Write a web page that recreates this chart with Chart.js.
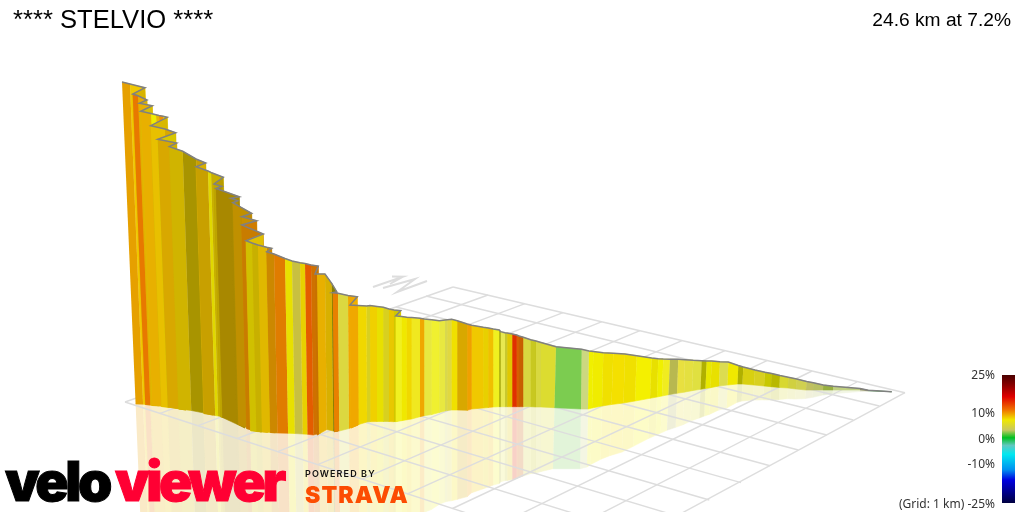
<!DOCTYPE html>
<html>
<head>
<meta charset="utf-8">
<title>Stelvio</title>
<script src="https://cdn.jsdelivr.net/npm/chart.js@4"></script>
<style>
  html, body { margin: 0; background: #fff; }
  #wrap { position: relative; width: 1024px; height: 512px; overflow: hidden; }
  #wrap span { position: absolute; white-space: nowrap; line-height: 1; color: #000; }
  .head { font-family: "Liberation Sans", Arial, sans-serif; }
  .tick { font: 12px "Noto Sans", sans-serif; color: #333 !important; right: 29px; }
  .logo { font: 900 55px Inter, sans-serif; letter-spacing: -3.5px; -webkit-text-stroke: 1px currentColor; }
</style>
</head>
<body>
<div id="wrap">
  <canvas id="chart" width="1024" height="512"></canvas>
  <span class="head" style="left:13px;top:7px;font-size:25.6px">**** STELVIO ****</span>
  <span class="head" style="right:13px;top:10px;font-size:19.2px">24.6 km at 7.2%</span>
  <span class="tick" style="top:369px">25%</span>
  <span class="tick" style="top:407px">10%</span>
  <span class="tick" style="top:433px">0%</span>
  <span class="tick" style="top:458px">-10%</span>
  <span class="tick" style="top:498px">(Grid: 1 km) -25%</span>
  <span class="logo" style="left:5px;top:454px;color:#000">velo</span>
  <span class="logo" style="left:115px;top:454px;color:#ff0033">viewer</span>
  <span style="left:305px;top:468px;font:600 9px Inter,sans-serif;letter-spacing:1.1px;color:#111">POWERED BY</span>
  <span style="left:305px;top:481px;font:900 23px Inter,sans-serif;letter-spacing:1.1px;color:#fc4c02">STRAVA</span>
</div>
<script>
// profile edge, in the order the road runs
const topX = [
  122,130,145,132.7,138,147,139.3,152.3,140.7,151,
  156,159,163,167.3,150.7,165,175.7,157.7,176.7,169.3,
  182.7,196,205.7,196,208,211,223.3,214,221.7,216,
  239.3,230.7,237.7,232.7,251.7,241.7,256.7,241.7,263.3,246,
  252,258,266.7,271.7,266.7,274,285,292,300,305,
  311,318.3,315,317,325,331.7,336.7,332.7,338,348,
  357.3,350,358,366.7,370,377,383.3,389,394,400.7,
  395.7,401.7,406.7,411.7,420,424.3,431.7,439.3,445,447.3,
  451.7,457.3,467.3,471.7,483.3,488.3,493.3,499.3,500.7,505,
  507.3,512.3,516.7,519,523.3,530.7,536,541,556,581.7,
  589,593.3,603.3,613.3,625,636.7,651.7,658.3,663.3,670,
  678.3,685,693.3,701.7,706.7,711.7,720,728.3,738.3,743.3,
  755,765,771.7,780,788.3,796.7,806.7,813.3,823.3,833.3,
  860,868.3,891.7
];
const topY = [
  82,84,87.7,94,95.7,100,103.3,105.7,111.3,113.6,
  114.8,115.5,116.2,117.3,125.7,129,132.7,139.3,143,146.7,
  151.3,159,163,166.7,171,172.5,177.3,184,186.3,188.5,
  196.7,198.3,200.7,202.7,213.3,216.7,220.7,225,234,240.7,
  243,245,247.3,248.3,251.7,254,258.5,261,262.7,263.5,
  265,266,274,274,274,283.3,291.7,292.7,293.3,295.5,
  296.7,305,305.5,306,305.5,306.5,307.3,309,310,310.7,
  316,316.6,317.2,317.6,318.3,319,319.7,320.7,320,319.7,
  319.3,320.7,324,325.3,327.3,328,329,330,331.7,332.8,
  333,334,335,336,337.3,339.8,341,342.5,346.7,349.3,
  351,351.5,352.7,353.3,354,355.7,358,358.7,359,359.2,
  359.3,359.7,360.3,360.7,361,361,361.7,362,365.5,367,
  370,372.2,373.5,375.5,377.3,379,381.5,382.7,385,386.2,
  388.5,390.3,391.7
];
// where the wall meets the grid
const baseX = [
  135.6,143.1,157.3,145.3,150.3,158.8,151.3,163.6,152.3,161.6,
  166.9,169.7,173.6,177.7,161.5,175,185.2,167.7,185.9,178.6,
  191.3,204,213.2,203.8,215.2,218.1,229.9,220.7,228.1,222.5,
  244.9,236.6,243.3,238.3,256.7,246.9,261.4,246.7,267.5,250.5,
  256.3,262,270.5,275.4,270.5,277.5,288.1,294.9,302.7,307.5,
  313.4,320.4,317.1,319,326.8,333.3,338,334.2,339.3,349,
  358.2,351,358.7,367,370.4,377,383.4,389,394,400,
  395.7,401.7,406.7,411.7,420,424.3,431.7,439.3,445,447.3,
  451.7,457.3,467.3,471.7,483.3,488.3,493.3,499.3,500.7,505,
  507.3,512.3,516.7,519,523.3,530.7,536,541,554.5,581,
  588,592,602,611.5,623.5,635,650,657,662,668.5,
  677,684,692,700.5,705.5,710.5,719,727.5,737.5,742.5,
  754,764,771,779.5,788,796,806,813,823,833,
  860,868.3,891.7
];
const baseY = [
  404,404.2,405.5,404.5,405,405.7,405,406,405.5,406,
  407,407,407.5,408,406.5,408,409.5,407,410,409,
  410.5,413,415,413.5,415.5,416,418.5,417,418,417.5,
  428,423.3,426,424.5,431,428.5,432,428.5,432.3,430.7,
  431.5,432,432.5,432.7,432.5,433,433.3,433.5,434,434.3,
  435,433,435,434,429.5,431,431,431.7,431,428.5,
  425,428,424.5,422,421.7,421.5,421.5,421.5,421.7,420,
  421.7,420.7,419.8,419,416.7,415.7,414.5,412.5,411,410.5,
  410,410,410.3,409,408,407.5,407,406.7,406.7,406.7,
  406.7,406.7,406.7,406.7,406.7,406.7,407,407,407.7,409,
  409,408,406,404.5,403,401,398.3,397,396,394.7,
  393.3,392.2,390.7,389.3,388.5,387.7,386,385,384,384,
  385,386,386.7,387.5,388,389,390,390,390,390,
  390,390.8,391.7
];
// gradient colour of each strip, one fewer than the edge points
const stripColors = [
  '#e6a000','#f0c800','#d8b400','#e87800','#e8ac00','#d8b400','#e8b000','#d8c000','#e8b000','#f0ec00',
  '#e8b800','#f09000','#e0d000','#d8b800','#e8c000','#d8a800','#d8c800','#d8a800','#d0b000','#d0b400',
  '#a89400','#c8a000','#d8b000','#c8a000','#e0d800','#c8b000','#b89c00','#c0a800','#b09000','#a88800',
  '#a88800','#a88800','#b09000','#c09000','#c08a00','#c89000','#d07c00','#c87c00','#e0c000','#d0c000',
  '#c8b000','#e0b800','#cc8800','#cc8800','#cc8800','#e07c00','#e8e000','#c8c040','#e8d000','#e45c00',
  '#d07000','#c87800','#c87000','#e8b000','#d8b000','#888000','#808000','#e88000','#dcd840','#f0a800',
  '#f0b000','#f0a800','#f0d800','#d8d020','#f0d000','#e8e000','#d8d020','#e8c800','#d0c800','#d8c800',
  '#f0f020','#f0e800','#f0d800','#f0e820','#f0a800','#e8e840','#f0f030','#e8e840','#d8d850','#e0d840',
  '#f0e000','#d8a800','#f0a000','#f0c800','#e8d000','#f0c000','#f0f020','#a0a000','#e8e850','#c8c830',
  '#e0c800','#e03000','#d86000','#c86000','#d8d840','#c8c820','#d8d840','#dcdc30','#7ccc50','#ccd880',
  '#f0f000','#f0ec00','#f0e000','#f4e000','#f0e000','#f4f000','#e8e000','#f0f000','#f0ec20','#b8b850',
  '#e8e040','#e4e040','#e0e040','#b0b000','#e8e800','#e8e000','#dcdc50','#f0e800','#b0b000','#d8d010',
  '#d8d020','#c8c800','#b8b800','#d8d830','#d0d040','#d0d050','#c0c060','#b8c060','#98b040','#c0d080',
  '#909060','#60a060'
];

// 1 km grid, one line per km each way, ends on the grid's outer edges
const gridAFromX = [453,426,396,367,336,305,272,237,205,168,125];
const gridAFromY = [287,296,307,317.5,328,339,350.7,362.7,374,387,402];
const gridAToX = [905,879.3,853.3,826.7,798.3,770,741,709.3,677,642,601];
const gridAToY = [392.7,406,420,435,450,465.7,482.7,500,516,534.7,556.7];
const gridBFromX = [125,160,198,237.4,277.8,317.7,362.1,407.5,452.5,500.3,549.5,601];
const gridBFromY = [402,413.3,425.7,438.5,451.7,464.6,479.1,493.8,508.5,524,540,556.7];
const gridBToX = [453,488,525,563,602,640,682,725,767,812,857,905];
const gridBToY = [287,295,303.7,312.7,321.7,330.7,340.7,350.7,360.7,371,382,392.7];

// north marker on the far side of the grid
const arrowX = [373,403,392,403,390];
const arrowY = [287,276.7,276.5,276.7,284];
const northX = [383,415,397,427];
const northY = [288,279,292,281];

// colour key
const keyStops = [0,0.08,0.17,0.27,0.35,0.43,0.49,0.55,0.62,0.74,0.82,1];
const keyColors = ['#4a0000','#8a0000','#e00000','#f07000','#f0e800','#c8c860','#00c020','#60c8c0','#00e8f0','#0090f0','#0000e0','#000040'];
const keyX = [1008.5,1008.5];
const keyY = [375,503];

const ctx = document.getElementById('chart').getContext('2d');

function line(xs, ys, color, width) {
  return {
    data: xs.map((x, i) => ({ x, y: ys[i] })),
    showLine: true, fill: false, borderColor: color, borderWidth: width,
    pointRadius: 0, borderCapStyle: 'butt'
  };
}

function strip(xs, ys, color) {
  return {
    data: xs.map((x, i) => ({ x, y: ys[i] })),
    showLine: true, fill: 'shape', backgroundColor: color,
    borderColor: color, borderWidth: 0.6, pointRadius: 0
  };
}

// the ground mirror is flat colour so that doubled-back strips don't stack
function pale(hex) {
  const mix = s => Math.round(255 - (255 - parseInt(s, 16)) * 0.22);
  return `rgb(${mix(hex.slice(1, 3))},${mix(hex.slice(3, 5))},${mix(hex.slice(5, 7))})`;
}

const datasets = [];
stripColors.forEach((c, i) => {
  const mx = [baseX[i], baseX[i + 1], 2 * baseX[i + 1] - topX[i + 1], 2 * baseX[i] - topX[i]];
  const my = [baseY[i], baseY[i + 1], 2 * baseY[i + 1] - topY[i + 1], 2 * baseY[i] - topY[i]];
  datasets.push(strip(mx, my, pale(c)));
});
gridAFromX.forEach((x, i) => datasets.push(line([x, gridAToX[i]], [gridAFromY[i], gridAToY[i]], '#dddddd', 1.4)));
gridBFromX.forEach((x, i) => datasets.push(line([x, gridBToX[i]], [gridBFromY[i], gridBToY[i]], '#dddddd', 1.4)));
datasets.push(line(arrowX, arrowY, '#dddddd', 2));
datasets.push(line(northX, northY, '#dddddd', 2));

stripColors.forEach((c, i) => {
  const sx = [topX[i], topX[i + 1], baseX[i + 1], baseX[i]];
  const sy = [topY[i], topY[i + 1], baseY[i + 1], baseY[i]];
  datasets.push(strip(sx, sy, c));
});
datasets.push(line(topX, topY, '#808080', 1.5));

const keyFill = ctx.createLinearGradient(0, keyY[0], 0, keyY[1]);
keyStops.forEach((s, i) => keyFill.addColorStop(s, keyColors[i]));
datasets.push(line(keyX, keyY, keyFill, 13));

// chart.js paints lower order last, so keep the array order
datasets.forEach((d, i) => { d.order = datasets.length - i; });

new Chart(ctx, {
  type: 'scatter',
  data: { datasets },
  options: {
    responsive: false,
    animation: false,
    events: [],
    layout: { padding: 0 },
    plugins: { legend: { display: false }, tooltip: { enabled: false } },
    scales: {
      x: { type: 'linear', min: 0, max: 1024, display: false },
      y: { type: 'linear', min: 0, max: 512, reverse: true, display: false }
    }
  }
});
</script>
</body>
</html>
